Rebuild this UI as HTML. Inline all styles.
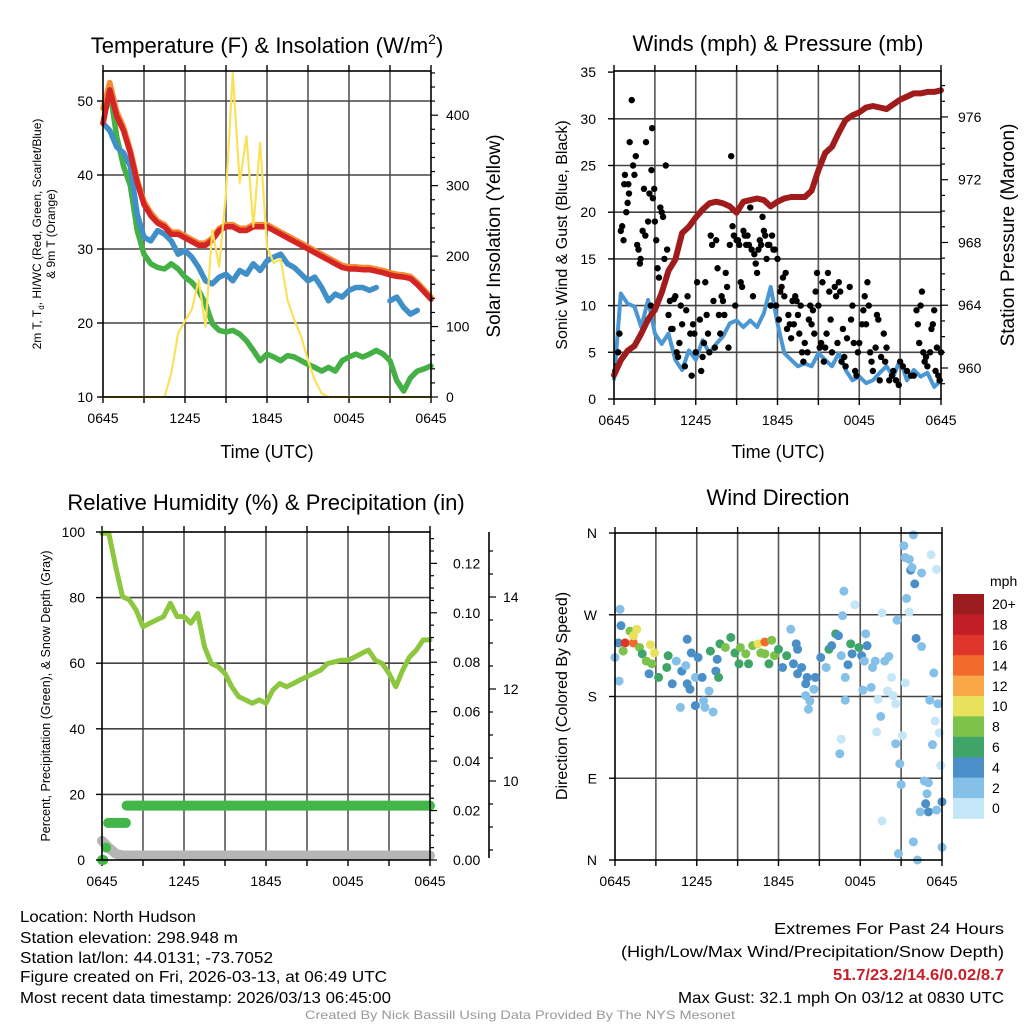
<!DOCTYPE html>
<html><head><meta charset="utf-8"><style>
html,body{margin:0;padding:0;background:#fff;}
svg{display:block;font-family:"Liberation Sans",Arial,sans-serif;}
</style></head><body>
<svg id="fig" xmlns="http://www.w3.org/2000/svg" width="1024" height="1024" viewBox="0 0 1024 1024">
<rect x="0" y="0" width="1024" height="1024" fill="#fff"/>
<g id="p1"></g>
<g id="p2"></g>
<g id="p3"></g>
<g id="p4"></g>
<g id="footer" font-size="16" fill="#000">
<text x="20" y="922" textLength="176" lengthAdjust="spacingAndGlyphs">Location: North Hudson</text>
<text x="20" y="943" textLength="218" lengthAdjust="spacingAndGlyphs">Station elevation: 298.948 m</text>
<text x="20" y="963" textLength="253" lengthAdjust="spacingAndGlyphs">Station lat/lon: 44.0131; -73.7052</text>
<text x="20" y="982" textLength="367" lengthAdjust="spacingAndGlyphs">Figure created on Fri, 2026-03-13, at 06:49 UTC</text>
<text x="20" y="1003" textLength="371" lengthAdjust="spacingAndGlyphs">Most recent data timestamp: 2026/03/13 06:45:00</text>
<text x="774" y="934" textLength="230" lengthAdjust="spacingAndGlyphs">Extremes For Past 24 Hours</text>
<text x="621" y="957" textLength="383" lengthAdjust="spacingAndGlyphs">(High/Low/Max Wind/Precipitation/Snow Depth)</text>
<text x="833" y="980" textLength="171" lengthAdjust="spacingAndGlyphs" fill="#c8202a" font-weight="bold">51.7/23.2/14.6/0.02/8.7</text>
<text x="678" y="1003" textLength="326" lengthAdjust="spacingAndGlyphs">Max Gust: 32.1 mph On 03/12 at 0830 UTC</text>
<text x="305" y="1019" font-size="12" fill="#999" textLength="430" lengthAdjust="spacingAndGlyphs">Created By Nick Bassill Using Data Provided By The NYS Mesonet</text>
</g>
</svg>
<script>
const hours = [0,0.5,1,1.5,2,2.5,3,3.5,4,4.5,5,5.5,6,6.5,7,7.5,8,8.5,9,9.5,10,10.5,11,11.5,12,12.5,13,13.5,14,14.5,15,15.5,16,16.5,17,17.5,18,18.5,19,19.5,20,20.5,21,21.5,22,22.5,23,23.5,24];
const tempRed = [47,51.5,48,46,43,39,36,34.5,33.5,33,32,32,31.5,31,30.5,30.5,31.2,32.5,33,33,32.5,32.5,33,33,33,32.5,32,31.5,31,30.5,30,29.5,29,28.5,28,27.5,27.3,27.3,27.2,27.2,27,26.8,26.5,26.3,26.2,26,25.2,24.2,23.2];
const tempOrange = [49,52.5,48.6,46.5,43.4,39.4,36.4,34.9,33.8,33.3,32.3,32.3,31.8,31.3,30.8,30.8,31.5,32.8,33.3,33.3,32.8,32.8,33.3,33.3,33.3,32.8,32.3,31.8,31.3,30.8,30.3,29.8,29.3,28.8,28.3,27.8,27.6,27.6,27.5,27.5,27.3,27.1,26.8,26.6,26.5,26.3,25.5,24.5,23.5];
const tempBlue = [47,46,43.8,43,41.2,34.7,31.6,31.1,32.5,32,31.1,29.3,29.8,28.9,27.5,25.7,25.3,26.2,26.6,25.7,27.1,26.6,28,27.1,28.4,28.9,29.3,28,27.5,26.6,25.7,26.2,24.8,23,23.9,23.5,24.4,24.8,24.8,24.4,24.8,null,23,23.5,22.1,21.2,21.7,null,null];
const tempGreen = [47,51.5,45.2,41.2,38.6,32.5,29.3,28,27.5,27.3,28,27.3,26.2,25.5,24.4,22.6,19.9,19,18.8,19,18.5,17.6,16.3,14.9,15.8,15.4,14.9,15.6,15.4,14.9,14.4,14,13.5,14,13.5,14.9,15.4,15.8,15.4,15.8,16.3,15.8,14.9,12.2,10.8,12.6,13.5,13.8,14.2];
const insolation = [0,0,0,0,0,0,0,0,0,0,34,91,108,124,166,100,237,185,290,461,304,370,242,361,213,190,196,138,109,86,52,24,5,0,0,0,0,0,0,0,0,0,0,0,0,0,0,0,0];
const windSpeed = [2.0,11.3,10.2,9.9,7.7,10.6,7.0,5.9,7.0,4.2,3.1,5.2,4.2,6.3,4.9,5.9,6.7,8.1,8.4,7.7,8.4,7.7,9.2,12.0,8.1,4.9,4.2,3.5,3.8,3.5,4.9,4.2,3.5,4.9,3.1,2.0,2.4,1.7,2.0,2.8,3.5,2.4,4.2,2.0,3.1,2.4,2.8,1.3,2.0];
const pressure = [959.55,960.5,961.1,961.4,962.2,963.1,963.7,964.8,966.2,966.9,968.6,969,969.6,970.1,970.5,970.6,970.5,970.3,969.9,970.6,970.7,970.8,970.7,970.3,970.6,970.8,970.9,970.9,970.9,971.3,972.6,973.7,974.1,975,975.8,976.1,976.3,976.6,976.7,976.6,976.5,976.8,977.1,977.3,977.5,977.5,977.6,977.6,977.7];
const gustHour = [0.1,0.2,0.3,0.4,0.5,0.6,0.7,0.75,0.8,0.9,1.0,1.05,1.1,1.15,1.3,1.4,1.5,1.6,1.7,1.8,1.9,1.95,2.1,2.2,2.3,2.35,2.5,2.6,2.7,2.75,2.8,2.85,2.95,3.0,3.1,3.2,3.3,3.4,3.5,3.6,3.7,3.8,3.9,4.0,4.1,4.2,4.3,4.4,4.5,4.6,4.7,4.8,4.9,5.0,5.2,5.3,5.4,5.6,5.7,5.8,5.9,6.0,6.1,6.3,6.4,6.5,6.6,6.7,6.8,6.9,7.0,7.1,7.2,7.3,7.4,7.5,7.6,7.7,7.8,7.9,8.0,8.1,8.2,8.3,8.4,8.5,8.6,8.7,8.8,8.9,9.0,9.1,9.2,9.3,9.4,9.5,9.6,9.7,9.8,9.9,10.0,10.1,10.2,10.3,10.4,10.5,10.6,10.7,10.8,10.9,11.0,11.1,11.2,11.3,11.4,11.5,11.6,11.7,11.8,11.9,12.0,12.1,12.2,12.3,12.4,12.5,12.6,12.7,12.8,12.9,13.0,13.1,13.2,13.3,13.4,13.5,13.6,13.7,13.8,13.9,14.0,14.2,14.3,14.4,14.5,14.6,14.7,14.8,14.9,15.0,15.1,15.2,15.3,15.4,15.5,15.6,15.7,15.8,15.9,16.0,16.2,16.3,16.4,16.5,16.6,16.7,16.8,16.9,17.0,17.1,17.3,17.4,17.5,17.6,17.7,17.8,17.9,18.0,18.2,18.3,18.4,18.5,18.6,18.7,18.8,18.9,19.0,19.2,19.3,19.4,19.5,19.6,19.8,19.9,20.0,20.2,20.4,20.5,20.7,20.9,21.0,21.2,21.5,21.8,22.0,22.2,22.3,22.4,22.5,22.6,22.7,22.8,22.9,23.0,23.2,23.3,23.4,23.5,23.6,23.7,23.8,24.0,23.9];
const gustSpeed = [3,3.5,5,7,18,18.5,17,23,24,20,21,23,22,27.5,32,25,24,26,16.5,16,14.5,15,18,22.5,17.5,27.5,19,22,10,24.5,29,21.5,22.5,19,17,14,13,20.5,20,19.5,15,25,16,9,10.5,7.5,7.5,10.7,11,5,4.5,6,10,8,3.5,9.5,11,7,2.5,8,7,5,12.5,8.5,3,4.5,6,12.5,9,7,5,17.5,16.5,10.5,5.5,17,14,9,7,11,10.5,9,13.5,12,5.5,16.5,26,18.5,17.5,10,17,17,16.5,12.5,12,18,17.5,16.5,17.5,16.5,20.5,16,11,15.5,14.5,13.5,16,17,16.5,19.5,18,17.5,15,16.5,16.5,10,17.5,16,16,10,15,8.5,11.5,12,13,11,13.5,7.5,9,8,6.5,10.5,8,11,10.5,9,7,10,5,4,6,5,8.5,10,8,9.5,7,11.5,13.5,10,5.5,6,12.5,4,5.5,7,13.5,11.5,8.5,5,12,11,6,12.5,11.5,4,7.5,4.5,3.5,6.5,12,8.5,10,6,3,2.5,5,6,8,9.5,11,8,12.5,10,5,4,3,5.5,9,8.5,2,4.5,7,4,5.5,2,2.5,3,2,1.5,4,3.5,3,2.5,2.5,9.5,8,6,10,11.5,5,4,4.5,3.5,5,7.5,8,9.5,3,5.5,2.5,5,2];
const rhValues = [99.6,99.6,89.4,80.3,79.3,76.2,71.1,72.2,73.2,74.2,78.3,74.2,74.2,72.2,75.2,65,59.9,58.9,56.9,52.8,49.8,48.8,47.8,48.8,47.8,51.8,53.8,52.8,53.8,54.9,55.9,56.9,57.9,59.9,60.4,60.9,60.9,61.9,63,64,60.9,59.9,56.9,52.8,57.9,61.9,64,67.1,67.1];
const snowDepth = [8.7,8.55,8.42,8.38,8.38,8.38,8.38,8.38,8.38,8.38,8.38,8.38,8.38,8.38,8.38,8.38,8.38,8.38,8.38,8.38,8.38,8.38,8.38,8.38,8.38,8.38,8.38,8.38,8.38,8.38,8.38,8.38,8.38,8.38,8.38,8.38,8.38,8.38,8.38,8.38,8.38,8.38,8.38,8.38,8.38,8.38,8.38,8.38,8.38];
const precipStart = [0,0.3,0.45,1.8];
const precipEnd = [0.1,0.3,1.75,24];
const precipValue = [0.0,0.005,0.015,0.022];
const dirHour = [0.37,0.25,0,0.3,0.44,0.74,1.35,1.1,1.6,1.35,0.6,1.8,2.0,2.6,2.9,2.3,2.7,2.5,3.2,3.8,3.9,4.2,4.5,4.9,5.2,5.3,4.8,5.3,5.6,5.9,5.5,5.9,6.1,6.4,6.5,6.6,6.9,7.0,7.2,7.4,7.6,7.7,7.5,8.1,8.5,8.8,9.2,9.6,9.1,9.8,10.1,10.5,10.7,11.0,11.0,11.3,11.5,11.7,12.0,12.3,12.6,12.9,13.3,13.4,13.1,13.4,13.7,14.0,14.1,14.0,14.3,14.2,14.6,14.7,15.1,15.5,15.7,15.9,16.2,16.4,16.6,16.7,16.8,16.9,17.1,17.3,17.4,16.9,16.6,16.5,17.6,17.9,18.1,18.3,18.4,18.5,18.8,18.2,18.9,19.1,19.3,19.5,19.2,19.6,19.8,20.0,20.1,20.3,20.4,20.6,20.7,20.6,20.9,21.0,20.8,21.1,21.2,21.3,21.6,21.7,21.8,21.9,22.0,21.4,21.6,21.3,22.1,22.5,22.5,21.9,22.2,22.7,23.0,22.9,22.8,23.0,22.4,23.2,23.6,23.4,23.1,23.7,23.5,23.8,23.3,23.9,23.6,24.0,24.0,19.6];
const dirDeg = [276,239,223,197,258,239,239,252,254,247,230,234,227,237,228,219,216,205,201,212,225,194,219,208,214,194,168,243,228,201,188,170,223,201,175,168,186,230,163,208,201,238,221,234,245,228,234,227,216,216,236,238,228,240,227,216,242,225,232,212,225,254,238,232,216,205,212,194,201,181,175,166,188,201,223,212,232,236,249,247,225,269,296,201,215,238,227,176,133,117,281,234,225,219,249,236,190,187,212,219,177,158,141,272,219,186,224,201,181,172,264,128,106,83,7,137,346,333,331,319,322,358,304,288,273,195,244,235,316,20,0,87,85,73,62,53,53,336,320,206,176,172,153,140,127,104,55,64,14,43];
const dirSpeed = [3,5,3,3,5,17,15,9,11,11,9,9,7,11,11,9,9,5,7,7,7,5,3,5,3,5,3,5,5,3,5,5,5,5,3,3,3,7,3,5,7,7,5,9,7,7,9,9,7,7,9,11,9,15,9,7,9,9,7,5,7,3,5,5,5,5,5,5,5,3,3,3,3,5,5,3,7,5,7,5,3,3,3,3,5,7,5,3,1,3,1,7,5,3,3,5,3,3,3,3,1,3,1,1,3,1,3,1,1,1,3,3,3,3,3,1,3,3,3,5,3,3,5,3,1,1,5,3,3,3,3,3,3,3,5,5,3,1,1,3,3,3,1,1,3,1,3,5,3,1];
const cbLabels = ["20+","18","16","14","12","10","8","6","4","2","0"];
const cbColors = ["#9b1b1e","#c11e27","#e0352a","#f26b2d","#f9a748","#e8e15c","#7dc24a","#3fa467","#4b8fc8","#85c0e8","#c4e6f7"];
const xTickLabels = ["0645","1245","1845","0045","0645"];
const tempTicks = [10,20,30,40,50];
const insTicks = [0,100,200,300,400];
const windTicks = [0,5,10,15,20,25,30,35];
const presTicks = [960,964,968,972,976];
const rhTicks = [0,20,40,60,80,100];
const precipTicks = [0,0.02,0.04,0.06,0.08,0.10,0.12];
const snowTicks = [10,12,14];
const dirTicks = ["N","E","S","W","N"];

const NS="http://www.w3.org/2000/svg";
function mk(parent,tag,attrs,text){const e=document.createElementNS(NS,tag);for(const k in attrs)e.setAttribute(k,attrs[k]);if(text!==undefined)e.textContent=text;parent.appendChild(e);return e;}
function colorFor(s){let i=Math.min(10,Math.floor(s/2));return cbColors[10-i];}
function linePath(xf,yf,xsArr,ysArr){let d="",pen=false;for(let i=0;i<xsArr.length;i++){const v=ysArr[i];if(v===null||v===undefined){pen=false;continue;}d+=(pen?"L":"M")+xf(xsArr[i]).toFixed(1)+","+yf(v).toFixed(1);pen=true;}return d;}

function frame(g,L,R,T,B,hLines){
  for(let h=3;h<24;h+=3){const x=L+h/24*(R-L);
    const gl=mk(g,"line",{x1:x,y1:T,x2:x,y2:B,stroke:"#555","stroke-width":1.6});
    
    }
  hLines.forEach(y=>{const gl=mk(g,"line",{x1:L,y1:y,x2:R,y2:y,stroke:"#444","stroke-width":1.6});
    
    });
  for(let h=0;h<=24;h+=3){const x=L+h/24*(R-L);
    mk(g,"line",{x1:x,y1:B,x2:x,y2:B+6,stroke:"#000","stroke-width":1.4});
    mk(g,"line",{x1:x,y1:T,x2:x,y2:T-6,stroke:"#000","stroke-width":1.4});}
  xTickLabels.forEach((t,i)=>{const x=L+i*6/24*(R-L);
    const tl=mk(g,"text",{x:x,y:B+26,"font-size":14,"text-anchor":"middle"},t);
    
    });
}
function border(g,L,R,T,B){const r=mk(g,"rect",{x:L,y:T,width:R-L,height:B-T,fill:"none",stroke:"#000","stroke-width":1.6});
  
  }

(function(){
  const g=document.getElementById("p1");const L=103,R=431,T=71,B=397;
  const X=h=>L+h/24*(R-L), Yt=t=>397-(t-10)*7.4, Yi=v=>397-v*0.7045;
  frame(g,L,R,T,B,tempTicks.map(Yt));
  const lines=[[tempOrange,"#f58a33","orange-9m-temp-line"],[tempGreen,"#44b045","green-dewpoint-line"],[tempBlue,"#3f8fc9","blue-windchill-line"],[tempRed,"#d42424","red-temperature-line"]];
  lines.forEach(([arr,c,n])=>{const p=mk(g,"path",{d:linePath(X,Yt,hours,arr),fill:"none",stroke:c,"stroke-width":5.5,"stroke-linejoin":"round","stroke-linecap":"round"});
    
    });
  const yi=mk(g,"path",{d:linePath(X,Yi,hours,insolation),fill:"none",stroke:"#fbe15a","stroke-width":2.2,"stroke-linejoin":"round"});
  
  
  border(g,L,R,T,B);
  tempTicks.forEach(t=>{mk(g,"line",{x1:L-6,y1:Yt(t),x2:L,y2:Yt(t),stroke:"#000","stroke-width":1.4});
    const tl=mk(g,"text",{x:L-10,y:Yt(t)+5,"font-size":14,"text-anchor":"end"},t);
    
    });
  for(let v=0;v<=460;v+=20){mk(g,"line",{x1:R,y1:Yi(v),x2:R+(v%100===0?7:4),y2:Yi(v),stroke:"#000","stroke-width":1.2});}
  insTicks.forEach(v=>{const tl=mk(g,"text",{x:R+15,y:Yi(v)+5,"font-size":14},v);
    
    });
  const t=mk(g,"text",{x:267,y:53,"font-size":22,"text-anchor":"middle"});
  
  
  t.innerHTML='Temperature (F) &amp; Insolation (W/m<tspan font-size="14" dy="-9">2</tspan><tspan dy="9">)</tspan>';
  const xl=mk(g,"text",{x:267,y:458,"font-size":18,"text-anchor":"middle"},"Time (UTC)");
  
  
  const yl=mk(g,"text",{x:0,y:0,"font-size":12,"text-anchor":"middle",transform:"translate(41,234) rotate(-90)"});
  
  
  yl.innerHTML='2m T, T<tspan font-size="8" dy="3">d</tspan><tspan dy="-3">, HI/WC (Red, Green, Scarlet/Blue)</tspan>';
  const yl2=mk(g,"text",{x:0,y:0,"font-size":12,"text-anchor":"middle",transform:"translate(55,234) rotate(-90)"},"& 9m T (Orange)");
  
  
  const yr=mk(g,"text",{x:0,y:0,"font-size":19,"text-anchor":"middle",transform:"translate(500,236) rotate(-90)"},"Solar Insolation (Yellow)");
  
  
})();

(function(){
  const g=document.getElementById("p2");const L=614,R=941,T=71,B=399;
  const X=h=>L+h/24*(R-L), Yw=v=>399-v*9.34, Yp=p=>368-(p-960)*15.69;
  frame(g,L,R,T,B,windTicks.filter(v=>v>0&&v<35).map(Yw));
  const wl=mk(g,"path",{d:linePath(X,Yw,hours,windSpeed),fill:"none",stroke:"#4a97d4","stroke-width":4,"stroke-linejoin":"round"});
  
  
  gustHour.forEach((h,i)=>{const c=mk(g,"circle",{cx:X(h),cy:Yw(gustSpeed[i]),r:3.2,fill:"#000"});
    
    });
  const pl=mk(g,"path",{d:linePath(X,Yp,hours,pressure),fill:"none",stroke:"#a01c1c","stroke-width":6,"stroke-linejoin":"round","stroke-linecap":"round"});
  
  
  border(g,L,R,T,B);
  windTicks.forEach(v=>{mk(g,"line",{x1:L-6,y1:Yw(v),x2:L,y2:Yw(v),stroke:"#000","stroke-width":1.4});
    const tl=mk(g,"text",{x:L-18,y:Yw(v)+5,"font-size":14,"text-anchor":"end"},v);
    
    });
  for(let p=958;p<=978;p++){const y=Yp(p);if(y<T||y>B)continue;mk(g,"line",{x1:R,y1:y,x2:R+(p%4===0?7:4),y2:y,stroke:"#000","stroke-width":1.2});}
  presTicks.forEach(p=>{const tl=mk(g,"text",{x:R+17,y:Yp(p)+5,"font-size":14},p);
    
    });
  const t=mk(g,"text",{x:778,y:51,"font-size":22,"text-anchor":"middle"},"Winds (mph) & Pressure (mb)");
  
  
  const xl=mk(g,"text",{x:778,y:458,"font-size":18,"text-anchor":"middle"},"Time (UTC)");
  
  
  const yl=mk(g,"text",{x:0,y:0,"font-size":16,"text-anchor":"middle",transform:"translate(567,235) rotate(-90)"},"Sonic Wind & Gust (Blue, Black)");
  
  
  const yr=mk(g,"text",{x:0,y:0,"font-size":19,"text-anchor":"middle",transform:"translate(1014,235) rotate(-90)"},"Station Pressure (Maroon)");
  
  
})();

(function(){
  const g=document.getElementById("p3");const L=102,R=430,T=532,B=860;
  const X=h=>L+h/24*(R-L), Yr=v=>860-v*3.28, Yp=v=>860-v*2472, Ys=s=>781-(s-10)*46;
  frame(g,L,R,T,B,rhTicks.filter(v=>v>0&&v<100).map(Yr));
  const sl=mk(g,"path",{d:linePath(X,Ys,hours,snowDepth),fill:"none",stroke:"#b5b5b5","stroke-width":10,"stroke-linejoin":"round","stroke-linecap":"round"});
  
  
  precipStart.forEach((s,i)=>{const p=mk(g,"line",{x1:X(s),y1:Yp(precipValue[i]),x2:X(precipEnd[i]),y2:Yp(precipValue[i]),stroke:"#43b649","stroke-width":10,"stroke-linecap":"round"});
    
    });
  const rl=mk(g,"path",{d:linePath(X,Yr,hours,rhValues),fill:"none",stroke:"#8dc63f","stroke-width":5,"stroke-linejoin":"round","stroke-linecap":"round"});
  
  
  border(g,L,R,T,B);
  rhTicks.forEach(v=>{mk(g,"line",{x1:L-6,y1:Yr(v),x2:L,y2:Yr(v),stroke:"#000","stroke-width":1.4});
    const tl=mk(g,"text",{x:L-17,y:Yr(v)+5,"font-size":14,"text-anchor":"end"},v);
    
    });
  for(let k=0;k<=26;k++){const v=k*0.005;const y=Yp(v);if(y<T)continue;mk(g,"line",{x1:R,y1:y,x2:R+(k%4===0?7:4),y2:y,stroke:"#000","stroke-width":1.2});}
  precipTicks.forEach(v=>{const tl=mk(g,"text",{x:R+23,y:Yp(v)+5,"font-size":14},v.toFixed(2));
    
    });
  const ax=mk(g,"line",{x1:489,y1:532,x2:489,y2:858,stroke:"#000","stroke-width":1.6});
  
  
  for(let s=8.5;s<=15.5;s+=0.5){const y=Ys(s);if(y<T||y>B)continue;mk(g,"line",{x1:489,y1:y,x2:489+(s%2===0?7:4),y2:y,stroke:"#000","stroke-width":1.2});}
  snowTicks.forEach(s=>{const tl=mk(g,"text",{x:503,y:Ys(s)+5,"font-size":14},s);
    
    });
  const t=mk(g,"text",{x:266,y:510,"font-size":22,"text-anchor":"middle"},"Relative Humidity (%) & Precipitation (in)");
  
  
  const yl=mk(g,"text",{x:0,y:0,"font-size":12.5,"text-anchor":"middle",transform:"translate(50,696) rotate(-90)"},"Percent, Precipitation (Green), & Snow Depth (Gray)");
  
  
})();

(function(){
  const g=document.getElementById("p4");const L=615,R=942,T=533,B=860;
  const X=h=>L+h/24*(R-L), Yd=d=>860-d*0.9083;
  frame(g,L,R,T,B,[90,180,270].map(Yd));
  dirHour.forEach((h,i)=>{const c=mk(g,"circle",{cx:X(h),cy:Yd(dirDeg[i]),r:4.5,fill:colorFor(dirSpeed[i])});
    
    });
  border(g,L,R,T,B);
  dirTicks.forEach((t,i)=>{const y=Yd(i*90);mk(g,"line",{x1:L-6,y1:y,x2:L,y2:y,stroke:"#000","stroke-width":1.4});
    const tl=mk(g,"text",{x:L-18,y:y+5,"font-size":14,"text-anchor":"end"},t);
    
    });
  const t=mk(g,"text",{x:778,y:505,"font-size":22,"text-anchor":"middle"},"Wind Direction");
  
  
  const yl=mk(g,"text",{x:0,y:0,"font-size":16,"text-anchor":"middle",transform:"translate(567,696) rotate(-90)"},"Direction (Colored By Speed)");
  
  
  const cb=mk(g,"g",{});
  
  
  const bh=20.4;
  cbColors.forEach((c,i)=>{const r=mk(cb,"rect",{x:953,y:594+i*bh,width:31,height:bh+0.5,fill:c});
    
    
    const tl=mk(cb,"text",{x:992,y:594+i*bh+bh/2+5,"font-size":14},cbLabels[i]);
    
    });
  const u=mk(cb,"text",{x:990,y:586,"font-size":14},"mph");
  
  
})();
</script>
</body></html>
